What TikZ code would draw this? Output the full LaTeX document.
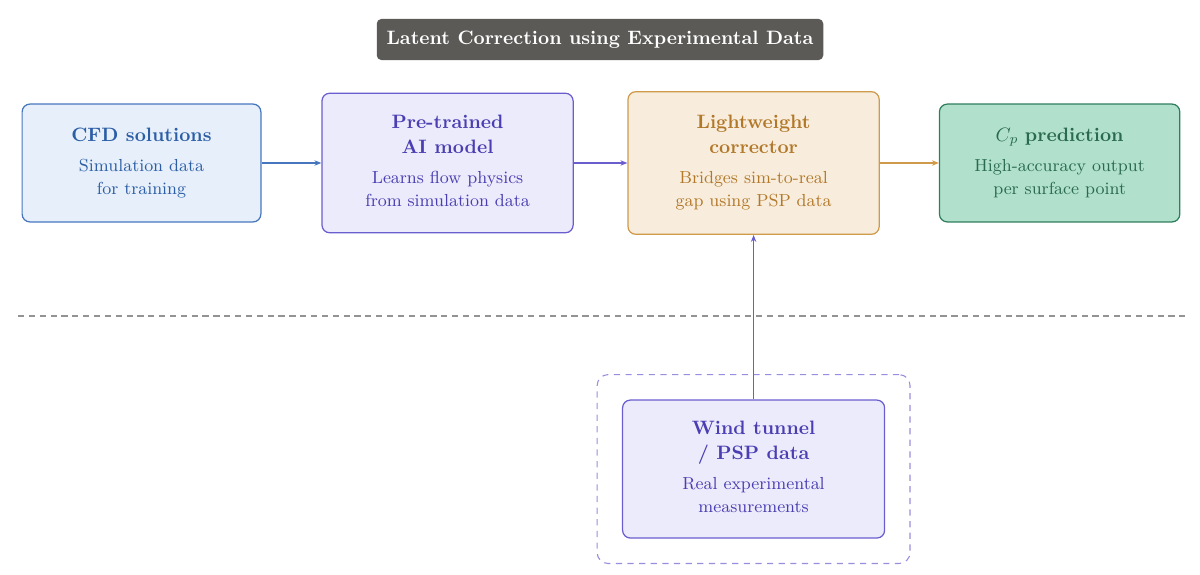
\documentclass[tikz,border=0pt]{standalone}
\usepackage{amsmath}
\usepackage{graphicx}
\usetikzlibrary{positioning, arrows.meta, fit}

\definecolor{cfdfill}{HTML}{E7F0FA}
\definecolor{cfdline}{HTML}{4676BE}
\definecolor{cfdtext}{HTML}{2C5EA6}
\definecolor{aifill}{HTML}{ECEBFB}
\definecolor{ailine}{HTML}{6A5ECF}
\definecolor{aitext}{HTML}{4A3EB2}
\definecolor{corfill}{HTML}{F8EDDC}
\definecolor{corline}{HTML}{CF9A4A}
\definecolor{cortext}{HTML}{B27829}
\definecolor{cpfill}{HTML}{B1E1CD}
\definecolor{cpline}{HTML}{2F7E5E}
\definecolor{cptext}{HTML}{2A6A4E}
\definecolor{titlefill}{HTML}{5B5A57}

% text of a block, set at the size of a scaled figure
\newcommand{\blocktext}[1]{\scalebox{1.25}{\begin{tabular}{@{}c@{}}#1\end{tabular}}}

\begin{document}
\begin{tikzpicture}[
        >={Stealth[length=4.5pt,width=3.5pt]},
        x=0.645pt, y=-0.645pt,
        node distance=197.4pt,
        on grid,
        block/.style={draw, rounded corners=5pt, line width=0.8pt, align=center, inner sep=2pt},
        frame/.style={draw=ailine!70, dash pattern=on 4pt off 3.5pt, rounded corners=7pt, line width=0.7pt, inner sep=16pt}
    ]
        \useasboundingbox (0,0) rectangle (1200,574);

        \node[fill=titlefill, text=white, rounded corners=3pt, minimum width=288pt, minimum height=26.5pt] (title) at (600,39.5)
            {\scalebox{1.25}{\bfseries Latent Correction using Experimental Data}};

        \node[block, fill=cfdfill, draw=cfdline, text=cfdtext, minimum width=154pt, minimum height=76pt] (cfd) at (141.5,163)
            {\blocktext{\bfseries CFD solutions\\[3.5pt] \small Simulation data\\ \small for training}};
        \node[block, fill=aifill, draw=ailine, text=aitext, minimum width=162pt, minimum height=90pt, right=of cfd] (ai)
            {\blocktext{\bfseries Pre-trained\\[1pt] \bfseries AI model\\[3.5pt] \small Learns flow physics\\ \small from simulation data}};
        \node[block, fill=corfill, draw=corline, text=cortext, minimum width=162pt, minimum height=92pt, right=of ai] (cor)
            {\blocktext{\bfseries Lightweight\\[1pt] \bfseries corrector\\[3.5pt] \small Bridges sim-to-real\\ \small gap using PSP data}};
        \node[block, fill=cpfill, draw=cpline, text=cptext, minimum width=155pt, minimum height=76pt, right=of cor] (cp)
            {\blocktext{$C_p$ \bfseries prediction\\[3.5pt] \small High-accuracy output\\ \small per surface point}};

        \node[block, fill=aifill, draw=ailine, text=aitext, minimum width=169pt, minimum height=89pt, below=of cor] (wind)
            {\blocktext{\bfseries Wind tunnel\\[1pt] \bfseries / PSP data\\[3.5pt] \small Real experimental\\ \small measurements}};
        \node[frame, fit=(wind)] (expbox) {};

        % separator between simulation and experiment
        \coordinate (sepL) at (18,316);
        \coordinate (sepR) at (1190,316);
        \draw[gray!85, line width=0.8pt, dash pattern=on 4pt off 3pt] (sepL) -- (sepR);

        \draw[->, cfdline, line width=0.7pt] (cfd) -- (ai);
        \draw[->, ailine, line width=0.7pt] (ai) -- (cor);
        \draw[->, corline, line width=0.7pt] (cor) -- (cp);
        \draw[->, ailine, line width=0.7pt] (wind) -- (cor);
\end{tikzpicture}
\end{document}
